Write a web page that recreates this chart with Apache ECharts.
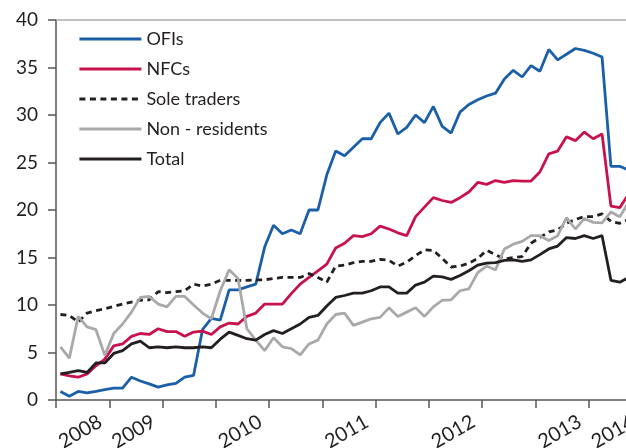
<!DOCTYPE html>
<html>
<head>
<meta charset="utf-8">
<script src="https://cdn.jsdelivr.net/npm/echarts@6/dist/echarts.min.js"></script>
<style>
  html, body { margin: 0; padding: 0; background: #fff; }
  #chart { width: 626px; height: 448px; }
</style>
</head>
<body>
<div id="chart"></div>
<script>
// monthly observations, one value per month (65 months)
const ofis = [0.9, 0.4, 0.9, 0.75, 0.9, 1.1, 1.25, 1.25, 2.4, 2.0, 1.7, 1.35, 1.6, 1.75, 2.4, 2.6,
  7.4, 8.6, 8.4, 11.6, 11.6, 11.9, 12.2, 16.1, 18.4, 17.5, 17.9, 17.5, 20.0, 20.0, 23.7, 26.2,
  25.7, 26.6, 27.5, 27.5, 29.2, 30.2, 28.0, 28.7, 30.0, 29.2, 30.9, 28.8, 28.1, 30.3, 31.1, 31.6,
  32.0, 32.3, 33.8, 34.7, 34.0, 35.2, 34.6, 36.9, 35.8, 36.4, 37.0, 36.8, 36.5, 36.1, 24.6, 24.6, 24.2];
const nfcs = [2.75, 2.55, 2.4, 2.75, 3.6, 4.3, 5.7, 5.9, 6.7, 7.0, 6.9, 7.5, 7.2, 7.2, 6.7, 7.15,
  7.25, 6.9, 7.7, 8.1, 8.0, 8.8, 9.15, 10.1, 10.1, 10.1, 11.2, 12.2, 12.9, 13.6, 14.3, 16.0,
  16.5, 17.3, 17.2, 17.5, 18.3, 18.0, 17.6, 17.3, 19.3, 20.3, 21.3, 21.0, 20.8, 21.3, 21.9, 22.9,
  22.7, 23.1, 22.9, 23.1, 23.05, 23.05, 24.0, 25.9, 26.2, 27.7, 27.3, 28.2, 27.5, 28.0, 20.4, 20.25, 21.7];
const soleTraders = [9.0, 8.9, 8.2, 9.15, 9.4, 9.6, 9.85, 10.1, 10.3, 10.5, 10.55, 11.4, 11.3, 11.4, 11.5, 12.2,
  12.0, 12.2, 12.6, 12.6, 12.6, 12.6, 12.65, 12.65, 12.8, 12.9, 12.9, 12.9, 13.3, 12.9, 12.4, 14.1,
  14.2, 14.45, 14.6, 14.6, 14.8, 14.7, 14.1, 14.5, 15.2, 15.8, 15.75, 14.9, 14.0, 14.1, 14.4, 14.9,
  15.75, 15.3, 14.85, 15.0, 15.1, 16.5, 17.1, 17.7, 17.9, 18.6, 19.0, 19.3, 19.3, 19.6, 18.8, 18.6, 19.0];
const nonResidents = [5.6, 4.4, 8.8, 7.7, 7.4, 4.7, 7.0, 8.0, 9.25, 10.8, 10.9, 10.1, 9.8, 10.9, 10.9, 10.0,
  9.15, 8.55, 11.5, 13.7, 12.8, 7.5, 6.3, 5.2, 6.55, 5.6, 5.4, 4.75, 5.9, 6.3, 8.0, 9.0,
  9.15, 7.85, 8.2, 8.55, 8.7, 9.7, 8.8, 9.25, 9.7, 8.8, 9.8, 10.5, 10.55, 11.5, 11.7, 13.4,
  14.1, 13.7, 15.9, 16.4, 16.7, 17.3, 17.3, 16.8, 17.3, 19.2, 18.0, 19.1, 18.7, 18.65, 19.8, 19.3, 20.8];
const total = [2.75, 2.9, 3.1, 2.9, 3.9, 3.9, 4.9, 5.2, 5.9, 6.2, 5.5, 5.6, 5.5, 5.6, 5.5, 5.5,
  5.6, 5.5, 6.4, 7.15, 6.8, 6.45, 6.3, 6.9, 7.3, 7.0, 7.5, 8.0, 8.7, 8.9, 9.9, 10.8,
  11.0, 11.25, 11.25, 11.5, 11.9, 11.9, 11.25, 11.25, 12.1, 12.4, 13.05, 12.95, 12.7, 13.1, 13.6, 14.2,
  14.4, 14.45, 14.7, 14.75, 14.6, 14.75, 15.3, 15.9, 16.2, 17.1, 17.0, 17.3, 17.0, 17.3, 12.6, 12.4, 12.9];

// x axis: ticks every 6 months, year labels on some of them
const yearTicks = [6, 12, 24, 36, 48, 60, 66];
const yearLabels = ['2008', '2009', '2010', '2011', '2012', '2013', '2014'];

const seriesNames = ['OFIs', 'NFCs', 'Sole traders', 'Non - residents', 'Total'];
const seriesValues = [ofis, nfcs, soleTraders, nonResidents, total];
const seriesColors = ['#1b5fa8', '#c8124b', '#231f20', '#a9a9a9', '#231f20'];

const font = 'Lato';
const chart = echarts.init(document.getElementById('chart'), null, { renderer: 'canvas' });

const series = seriesNames.map(function (name, k) {
  return {
    name: name,
    type: 'line',
    symbol: 'none',
    animation: false,
    data: seriesValues[k].map(function (v, i) { return [i + 0.5, v]; }),
    lineStyle: {
      color: seriesColors[k],
      width: 2.8,
      type: name === 'Sole traders' ? [6, 4.5] : 'solid'
    },
    itemStyle: { color: seriesColors[k] }
  };
});

chart.setOption({
  animation: false,
  backgroundColor: '#fff',
  textStyle: { fontFamily: font },
  grid: { left: 56, right: -16, top: 20, bottom: 48, outerBoundsMode: 'none', containLabel: false },
  legend: {
    orient: 'vertical',
    left: 73,
    top: 24,
    itemWidth: 62,
    itemHeight: 20,
    itemGap: 10,
    data: seriesNames,
    itemStyle: { opacity: 0 },
    lineStyle: { width: 2.8 },
    textStyle: { fontFamily: font, fontSize: 18, color: '#231f20', lineHeight: 20 }
  },
  xAxis: [{
    type: 'value',
    min: 0,
    max: 66,
    interval: 6,
    splitLine: { show: false },
    axisLine: { lineStyle: { color: '#555', width: 1.5 } },
    axisTick: { length: 8, lineStyle: { color: '#555', width: 1.5 } },
    axisLabel: {
      rotate: 30,
      margin: 15,
      fontFamily: font,
      fontSize: 20,
      color: '#231f20',
      showMinLabel: true,
      showMaxLabel: true,
      hideOverlap: false,
      formatter: function (v) {
        const k = yearTicks.indexOf(Math.round(v));
        return k >= 0 ? yearLabels[k] + '  ' : '';
      }
    }
  }, {
    type: 'value',
    position: 'top',
    min: 0,
    max: 66,
    splitLine: { show: false },
    axisLine: { lineStyle: { color: '#aaa', width: 1.5 } },
    axisTick: { show: false },
    axisLabel: { show: false }
  }],
  yAxis: {
    type: 'value',
    min: 0,
    max: 40,
    interval: 5,
    splitLine: { show: false },
    axisLine: { show: true, lineStyle: { color: '#555', width: 1.5 } },
    axisTick: { show: true, length: 8, lineStyle: { color: '#555', width: 1.5 } },
    axisLabel: { margin: 18, fontFamily: font, fontSize: 19, color: '#231f20' }
  },
  series: series
});
</script>
</body>
</html>
